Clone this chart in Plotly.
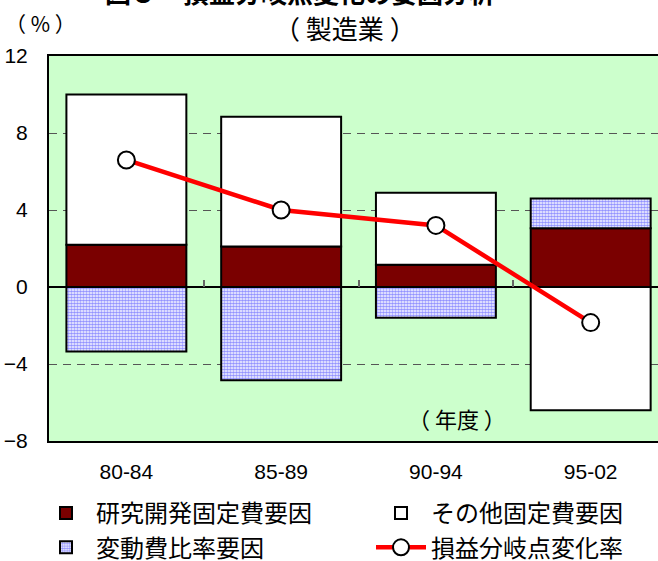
import plotly.graph_objects as go

# Periods (fiscal years) and factor contributions, in %
periods = ["80-84", "85-89", "90-94", "95-02"]
rd_fixed = [2.2, 2.1, 1.15, 3.05]          # 研究開発固定費要因
other_fixed = [7.8, 6.75, 3.75, -6.4]      # その他固定費要因
variable_ratio = [-3.35, -4.85, -1.6, 1.55]  # 変動費比率要因
breakeven_change = [6.6, 4.0, 3.2, -1.85]  # 損益分岐点変化率

y_ticks = [12, 8, 4, 0, -4, -8]

W, H = 658, 561
M_L, M_R, M_T, M_B = 49, 0, 56, 120
PW, PH = W - M_L - M_R, H - M_T - M_B

def px(x):
    return (x - M_L) / PW

def py(y):
    return (H - M_B - y) / PH

JP = "Noto Sans CJK JP"
NUM = "Liberation Sans"

bar_style = dict(width=0.775, marker_line=dict(color="black", width=2))

fig = go.Figure()
fig.add_trace(go.Bar(
    x=periods, y=rd_fixed, name="研究開発固定費要因", legend="legend",
    marker=dict(color="#7a0000"), **bar_style))
fig.add_trace(go.Bar(
    x=periods, y=other_fixed, name="その他固定費要因", legend="legend2",
    marker=dict(color="white"), **bar_style))
fig.add_trace(go.Bar(
    x=periods, y=variable_ratio, name="変動費比率要因", legend="legend",
    marker=dict(color="white",
                pattern=dict(shape=".", fgcolor="#2626ff", bgcolor="white",
                             size=3, solidity=0.65)),
    **bar_style))
fig.add_trace(go.Scatter(
    x=periods, y=breakeven_change, name="損益分岐点変化率", legend="legend2",
    xaxis="x2", mode="lines+markers",
    line=dict(color="#ff0000", width=4.5),
    marker=dict(symbol="circle", size=17, color="white",
                line=dict(color="black", width=2))))

legend_common = dict(
    orientation="v", xref="container", yref="container",
    y=1 - 491 / H, xanchor="left", yanchor="top",
    itemwidth=50, tracegroupgap=0,
    font=dict(family=JP, size=24), bgcolor="rgba(0,0,0,0)",
    traceorder="normal",
)

fig.update_layout(
    width=W, height=H,
    margin=dict(l=M_L, r=M_R, t=M_T, b=M_B, pad=0, autoexpand=False),
    paper_bgcolor="white",
    plot_bgcolor="#ccffcc",
    barmode="relative",
    font=dict(family=JP, size=20, color="black"),
    xaxis=dict(
        type="category", range=[-0.5, 3.435],
        showline=True, linecolor="black", linewidth=2, mirror=True,
        ticks="", showgrid=False, zeroline=False,
        tickfont=dict(family=NUM, size=21), ticklabelstandoff=11,
    ),
    xaxis2=dict(
        type="category", overlaying="x", matches="x",
        anchor="free", position=8 / 20, side="bottom",
        tickson="boundaries", ticks="inside", ticklen=7,
        tickcolor="#666666", tickwidth=1.5,
        showticklabels=False, showgrid=False, showline=False, zeroline=False,
    ),
    yaxis=dict(
        range=[-8, 12], tickvals=y_ticks,
        showline=True, linecolor="black", linewidth=2, mirror=False,
        ticks="", showgrid=True, gridcolor="#555555", gridwidth=1,
        griddash="8px,6px",
        zeroline=True, zerolinecolor="black", zerolinewidth=1.5,
        tickfont=dict(family=NUM, size=21), ticklabelstandoff=15,
    ),
    legend=dict(x=36 / W, **legend_common),
    legend2=dict(x=371 / W, **legend_common),
    showlegend=True,
)

annotations = [
    dict(text="<b>図５　損益分岐点変化の要因分析</b>", x=px(300), y=py(-9),
         font=dict(family=JP, size=26)),
    dict(text="（ 製造業 ）", x=px(345), y=py(28), font=dict(family=JP, size=26)),
    dict(text="（ % ）", x=px(40), y=py(23), font=dict(family=JP, size=21)),
    dict(text="（ 年度 ）", x=px(457), y=py(418), font=dict(family=JP, size=22)),
]
for a in annotations:
    fig.add_annotation(xref="paper", yref="paper", showarrow=False,
                       xanchor="center", yanchor="middle", **a)

fig.write_html("out.html")
